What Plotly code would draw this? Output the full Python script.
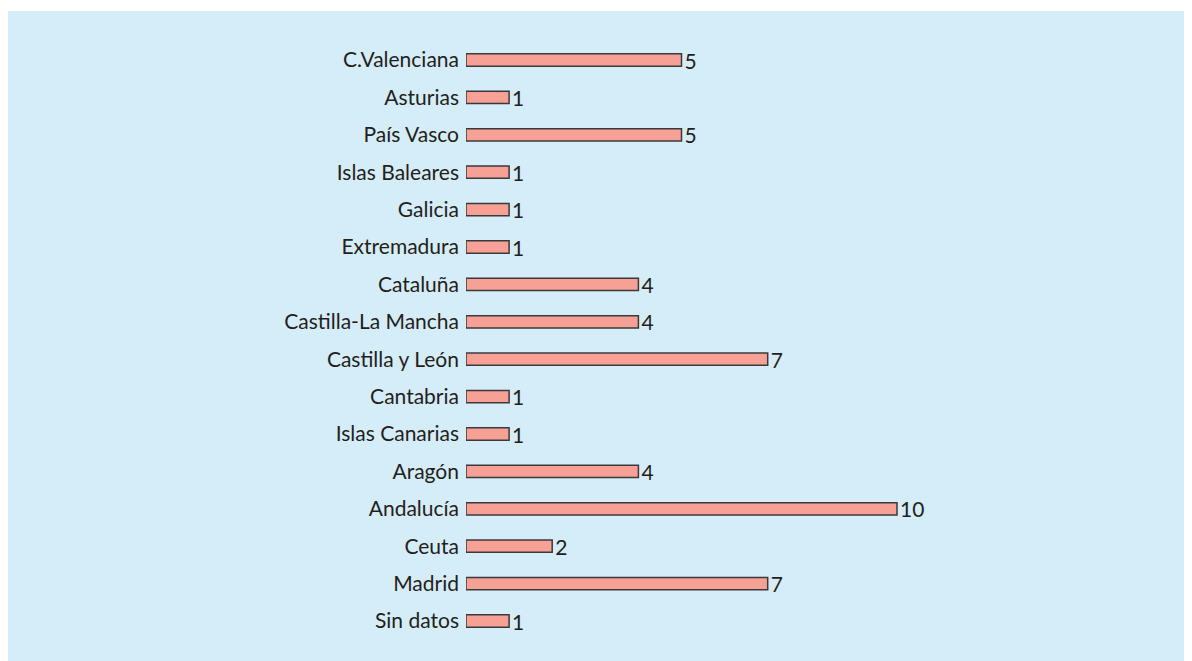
import plotly.graph_objects as go

categories = ["C.Valenciana", "Asturias", "País Vasco", "Islas Baleares", "Galicia",
              "Extremadura", "Cataluña", "Castilla-La Mancha", "Castilla y León",
              "Cantabria", "Islas Canarias", "Aragón", "Andalucía", "Ceuta",
              "Madrid", "Sin datos"]
values = [5, 1, 5, 1, 1, 1, 4, 4, 7, 1, 1, 4, 10, 2, 7, 1]

W, H = 1192, 661
OFF = 8  # page body margin
left, top = 466 - OFF, 11 - OFF
plot_w = W - left
plot_h = H - top
px_per_unit = 43.1
row = 37.4

fig = go.Figure(go.Bar(
    x=values, y=categories, orientation="h",
    marker=dict(color="#F7A096", line=dict(color="#3a3a3a", width=1.5)),
    width=0.33,
    text=[str(v) for v in values], textposition="outside",
    constraintext="none",
    textfont=dict(family="Lato", size=21, color="#231f20"),
    cliponaxis=False, hoverinfo="skip",
))

y_top = (60 - 11) / row
y_bot = (H + OFF - 621) / row

fig.update_layout(
    width=W, height=H,
    margin=dict(l=left, r=0, t=top, b=0, pad=0),
    paper_bgcolor="white", plot_bgcolor="rgba(0,0,0,0)",
    showlegend=False,
    xaxis=dict(range=[0, plot_w / px_per_unit], visible=False, fixedrange=True),
    yaxis=dict(type="category", categoryorder="array", categoryarray=categories,
               range=[len(categories) - 1 + y_bot, -y_top],
               showgrid=False, zeroline=False, showline=False, ticks="",
               ticklabelstandoff=6,
               tickfont=dict(family="Lato", size=21, color="#231f20")),
    shapes=[dict(type="rect", xref="paper", yref="paper",
                 x0=(0 - left) / plot_w, x1=1, y0=0, y1=1,
                 fillcolor="#D5ECF9", line=dict(width=0), layer="below")],
)

fig.write_html("out.html")
